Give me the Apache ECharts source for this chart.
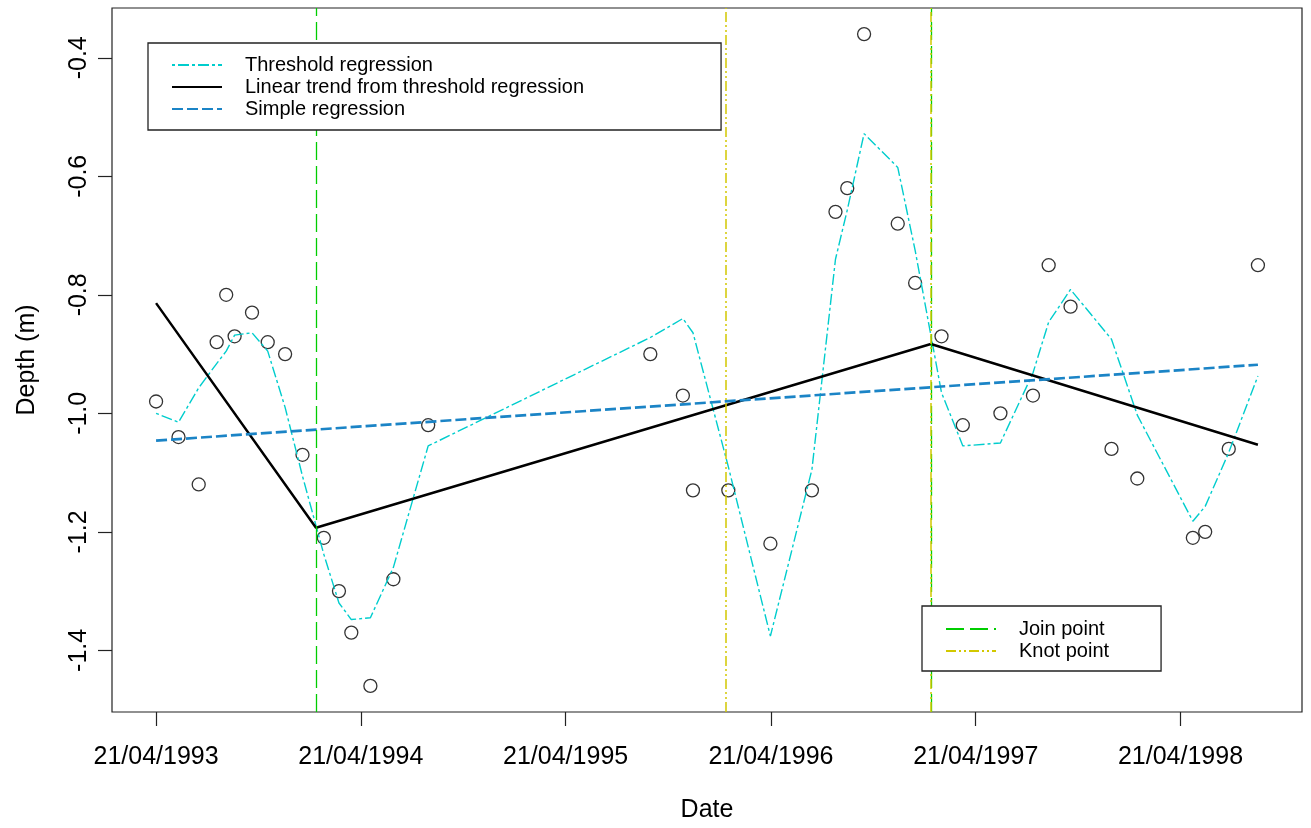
<!DOCTYPE html>
<html><head><meta charset="utf-8">
<script src="https://cdn.jsdelivr.net/npm/echarts@6/dist/echarts.min.js"></script>
<style>html,body{margin:0;padding:0;background:#fff}#c{width:1311px;height:828px}</style>
</head><body><div id="c"></div>
<script>
// Observation dates and measured depths (m)
const obsDates = ['1993-04-21','1993-05-31','1993-07-06','1993-08-07','1993-08-24','1993-09-08','1993-10-09','1993-11-06','1993-12-07','1994-01-07',
  '1994-02-14','1994-03-13','1994-04-04','1994-05-08','1994-06-18','1994-08-19','1995-09-19','1995-11-16','1995-12-04','1996-02-05',
  '1996-04-20','1996-07-03','1996-08-14','1996-09-04','1996-10-04','1996-12-03','1997-01-03','1997-02-19','1997-03-29','1997-06-04',
  '1997-08-01','1997-08-29','1997-10-07','1997-12-19','1998-02-03','1998-05-13','1998-06-04','1998-07-16','1998-09-06'];
const depth = [-0.98,-1.04,-1.12,-0.88,-0.80,-0.87,-0.83,-0.88,-0.90,-1.07,
  -1.21,-1.30,-1.37,-1.46,-1.28,-1.02,-0.90,-0.97,-1.13,-1.13,
  -1.22,-1.13,-0.66,-0.62,-0.36,-0.68,-0.78,-0.87,-1.02,-1.00,
  -0.97,-0.75,-0.82,-1.06,-1.11,-1.21,-1.20,-1.06,-0.75];
// Threshold regression fitted values at the observation dates
const thresholdFit = [-1.000,-1.015,-0.957,-0.916,-0.895,-0.868,-0.864,-0.895,-0.990,-1.106,
  -1.238,-1.320,-1.348,-1.345,-1.260,-1.055,-0.872,-0.840,-0.864,-1.090,
  -1.376,-1.095,-0.740,-0.657,-0.528,-0.585,-0.725,-0.965,-1.055,-1.050,
  -0.932,-0.846,-0.791,-0.875,-1.003,-1.182,-1.157,-1.066,-0.937];
// Linear trend from threshold regression (broken line)
const trendDates = ['1993-04-21','1994-01-31','1997-01-31','1998-09-06'];
const trendValues = [-0.814,-1.193,-0.883,-1.053];
// Simple regression
const simpleDates = ['1993-04-21','1998-09-06'];
const simpleValues = [-1.046,-0.918];
// Vertical markers
const joinDates = ['1994-01-31','1997-01-31'];
const knotDates = ['1996-01-31','1997-01-31'];
// Axis ticks
const xTickDates = ['1993-04-21','1994-04-21','1995-04-21','1996-04-21','1997-04-21','1998-04-21'];
const yTicks = [-1.4,-1.2,-1.0,-0.8,-0.6,-0.4];

function t(s){const p=s.split('-').map(Number);return Date.UTC(p[0],p[1]-1,p[2]);}
function pad(n){return (n<10?'0':'')+n;}
function fmtDate(v){const d=new Date(v);return pad(d.getUTCDate())+'/'+pad(d.getUTCMonth()+1)+'/'+d.getUTCFullYear();}

const xs = obsDates.map(t);
const x0 = Math.min.apply(null,xs), x1 = Math.max.apply(null,xs);
const y0 = Math.min.apply(null,depth), y1 = Math.max.apply(null,depth);
const xMin = x0-0.04*(x1-x0), xMax = x1+0.04*(x1-x0);
const yMin = y0-0.04*(y1-y0), yMax = y1+0.04*(y1-y0);

const FONT = '"Liberation Sans", Arial, Helvetica, sans-serif';
const legendCommon = {orient:'vertical',itemWidth:50,itemHeight:14,itemGap:2,z:20,
  backgroundColor:'#fff',borderColor:'#222',borderWidth:1.3,borderRadius:0,selectedMode:false,
  itemStyle:{opacity:0,borderWidth:0},
  textStyle:{fontSize:20,color:'#000',fontFamily:FONT,padding:[0,0,0,18]}};
const chart = echarts.init(document.getElementById('c'), null, {renderer:'canvas'});
chart.setOption({
  animation:false,
  backgroundColor:'#fff',
  textStyle:{fontFamily:FONT,color:'#000'},
  grid:{left:112,right:9,top:8,bottom:116,show:true,borderColor:'#222',borderWidth:1.2,backgroundColor:'transparent'},
  xAxis:{type:'value',min:xMin,max:xMax,scale:true,
    name:'Date',nameLocation:'middle',nameGap:86,nameTextStyle:{fontSize:25,color:'#000',fontFamily:FONT},
    axisLine:{show:false},splitLine:{show:false},
    axisTick:{show:true,length:14,lineStyle:{color:'#222',width:1.2},customValues:xTickDates.map(t)},
    axisLabel:{fontSize:25,color:'#000',fontFamily:FONT,margin:33,customValues:xTickDates.map(t),formatter:fmtDate,hideOverlap:false}},
  yAxis:{type:'value',min:yMin,max:yMax,scale:true,
    name:'Depth (m)',nameLocation:'middle',nameGap:72,nameRotate:90,nameTextStyle:{fontSize:25,color:'#000',fontFamily:FONT},
    axisLine:{show:false},splitLine:{show:false},
    axisTick:{show:true,length:14,lineStyle:{color:'#222',width:1.2},customValues:yTicks},
    axisLabel:{fontSize:25,color:'#000',fontFamily:FONT,rotate:90,margin:20,customValues:yTicks,formatter:function(v){return v.toFixed(1);}}},
  legend:[
    Object.assign({},legendCommon,{left:148,top:43,padding:[12,137,11,23],
     data:['Threshold regression','Linear trend from threshold regression','Simple regression']}),
    Object.assign({},legendCommon,{left:922,top:606,padding:[13,52,10,23],
     data:['Join point','Knot point']})
  ],
  series:[
    {name:'Observed',type:'scatter',symbol:'circle',symbolSize:13,silent:true,
     itemStyle:{color:'rgba(0,0,0,0)',borderColor:'#000',borderWidth:1.3},
     data:xs.map((x,i)=>[x,depth[i]]),z:3},
    {name:'Join point',type:'line',symbol:'none',data:[],
     lineStyle:{color:'#00CD00',width:1.3,type:[18,6]},itemStyle:{color:'#00CD00'},
     markLine:{silent:true,symbol:['none','none'],label:{show:false},
       lineStyle:{color:'#00CD00',width:1.3,type:[18,6]},
       data:joinDates.map(d=>({xAxis:t(d)}))},z:2},
    {name:'Knot point',type:'line',symbol:'none',data:[],
     lineStyle:{color:'#D2C800',width:1.5,type:[10,3,2,3,2,3]},itemStyle:{color:'#D2C800'},
     markLine:{silent:true,symbol:['none','none'],label:{show:false},
       lineStyle:{color:'#D2C800',width:1.5,type:[10,3,2,3,2,3]},
       data:knotDates.map(d=>({xAxis:t(d)}))},z:2},
    {name:'Threshold regression',type:'line',symbol:'none',silent:true,
     lineStyle:{color:'#00CDCD',width:1.4,type:[3,3,11,3]},itemStyle:{color:'#00CDCD'},
     data:xs.map((x,i)=>[x,thresholdFit[i]]),z:4},
    {name:'Linear trend from threshold regression',type:'line',symbol:'none',silent:true,
     lineStyle:{color:'#000',width:2.5,type:'solid'},itemStyle:{color:'#000'},
     data:trendDates.map((d,i)=>[t(d),trendValues[i]]),z:4},
    {name:'Simple regression',type:'line',symbol:'none',silent:true,
     lineStyle:{color:'#1B84C6',width:2.7,type:[11,4]},itemStyle:{color:'#1B84C6'},
     data:simpleDates.map((d,i)=>[t(d),simpleValues[i]]),z:4}
  ]
});
</script></body></html>
